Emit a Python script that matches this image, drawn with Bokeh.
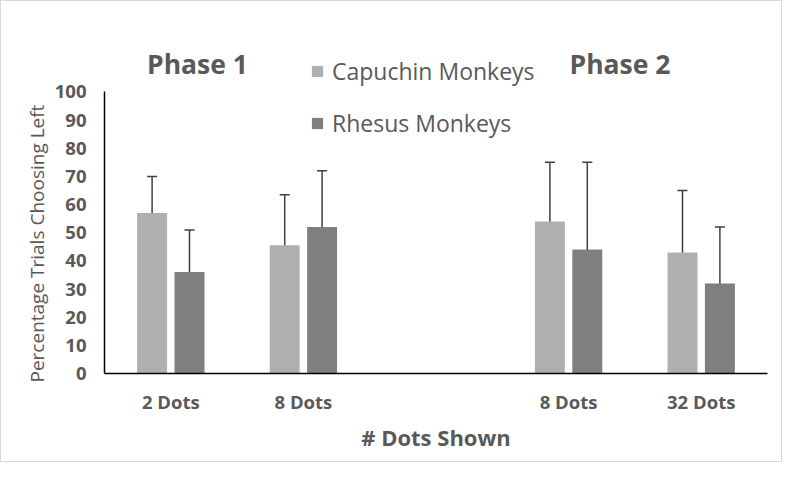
from bokeh.plotting import figure
from bokeh.models import (ColumnDataSource, Range1d, FixedTicker, Whisker, TeeHead,
                          Legend, LegendItem, Label, Title)
from bokeh.embed import file_html
from bokeh.resources import INLINE

# ---- data ----
categories = ["2 Dots", "8 Dots", "8 Dots", "32 Dots"]
phase = [1, 1, 2, 2]
phase_titles = ["Phase 1", "Phase 2"]
capuchin = [57, 45.5, 54, 43]
capuchin_err = [13, 18, 21, 22]
rhesus = [36, 52, 44, 32]
rhesus_err = [15, 20, 31, 20]
y_ticks = [0, 10, 20, 30, 40, 50, 60, 70, 80, 90, 100]
series_names = ["Capuchin Monkeys", "Rhesus Monkeys"]

# slot positions: a blank slot between phases
slots = [i + (ph - 1) for i, ph in enumerate(phase)]

FONT = "Open Sans"
TXT = "#595959"
C1 = "#afafaf"
C2 = "#7f7f7f"
ERR = "#404040"
off = 0.141
bw = 0.226
X0 = -0.5
Y_TOP = 125  # headroom above 100 for titles and legend

src1 = ColumnDataSource(dict(
    x=[s - off for s in slots], top=capuchin,
    upper=[v + e for v, e in zip(capuchin, capuchin_err)],
    lower=[v - e for v, e in zip(capuchin, capuchin_err)]))
src2 = ColumnDataSource(dict(
    x=[s + off for s in slots], top=rhesus,
    upper=[v + e for v, e in zip(rhesus, rhesus_err)],
    lower=[v - e for v, e in zip(rhesus, rhesus_err)]))

p = figure(width=782, height=462, output_backend="svg", toolbar_location=None,
           x_range=Range1d(X0, X0 + 5), y_range=Range1d(0, Y_TOP),
           min_border_left=103, min_border_right=16, min_border_top=20,
           min_border_bottom=90)
p.outline_line_color = None
p.grid.visible = False
p.background_fill_color = "white"
p.border_fill_color = "white"
p.styles = {"border": "1px solid #d9d9d9"}

r1 = p.vbar(x="x", top="top", width=bw, source=src1, fill_color=C1, line_color=None)
r2 = p.vbar(x="x", top="top", width=bw, source=src2, fill_color=C2, line_color=None)

for src in (src1, src2):
    w = Whisker(source=src, base="x", upper="upper", lower="lower",
                line_color=ERR, line_width=1.5,
                upper_head=TeeHead(size=10, line_color=ERR, line_width=1.5),
                lower_head=TeeHead(size=10, line_color=ERR, line_width=1.5))
    p.add_layout(w)

# axes
p.xaxis.ticker = FixedTicker(ticks=slots)
p.xaxis.major_label_overrides = {s: c for s, c in zip(slots, categories)}
p.yaxis.ticker = FixedTicker(ticks=y_ticks)
p.yaxis.bounds = (y_ticks[0], y_ticks[-1])
for ax in (p.xaxis, p.yaxis):
    ax.axis_line_color = "black"
    ax.axis_line_width = 1.5
    ax.major_tick_line_color = None
    ax.minor_tick_line_color = None
    ax.major_label_text_font = FONT
    ax.major_label_text_font_style = "bold"
    ax.major_label_text_font_size = "18.5px"
    ax.major_label_text_color = TXT
    ax.axis_label_text_font = FONT
    ax.axis_label_text_color = TXT
p.xaxis.major_label_standoff = 9
p.yaxis.major_label_standoff = 12
p.xaxis.axis_label = "# Dots Shown"
p.xaxis.axis_label_text_font_size = "22px"
p.xaxis.axis_label_text_font_style = "bold"
p.xaxis.axis_label_standoff = 5

# y axis title (placed as a side title so it can sit low, like the original)
ytitle = Title(text="Percentage Trials Choosing Left", align="left", offset=-9,
               text_font=FONT, text_font_size="19px", text_font_style="normal",
               text_color=TXT, standoff=4)
p.add_layout(ytitle, "left")

# legend
legend = Legend(items=[LegendItem(label=series_names[0], renderers=[r1]),
                       LegendItem(label=series_names[1], renderers=[r2])],
                location=(206, 234), orientation="vertical",
                glyph_width=14, glyph_height=14, label_standoff=8, spacing=20,
                padding=0, margin=0, border_line_color=None,
                background_fill_alpha=0, label_text_font=FONT,
                label_text_font_size="23px", label_text_color=TXT)
p.add_layout(legend, "center")

# phase titles
for t, xs in zip(phase_titles, [93, 515.5]):
    p.add_layout(Label(x=xs, y=310, x_units="screen", y_units="screen", text=t,
                       text_font=FONT, text_font_style="bold", text_font_size="26.5px",
                       text_color=TXT, text_align="center", text_baseline="middle"))

open("out.html", "w").write(file_html(p, INLINE))
